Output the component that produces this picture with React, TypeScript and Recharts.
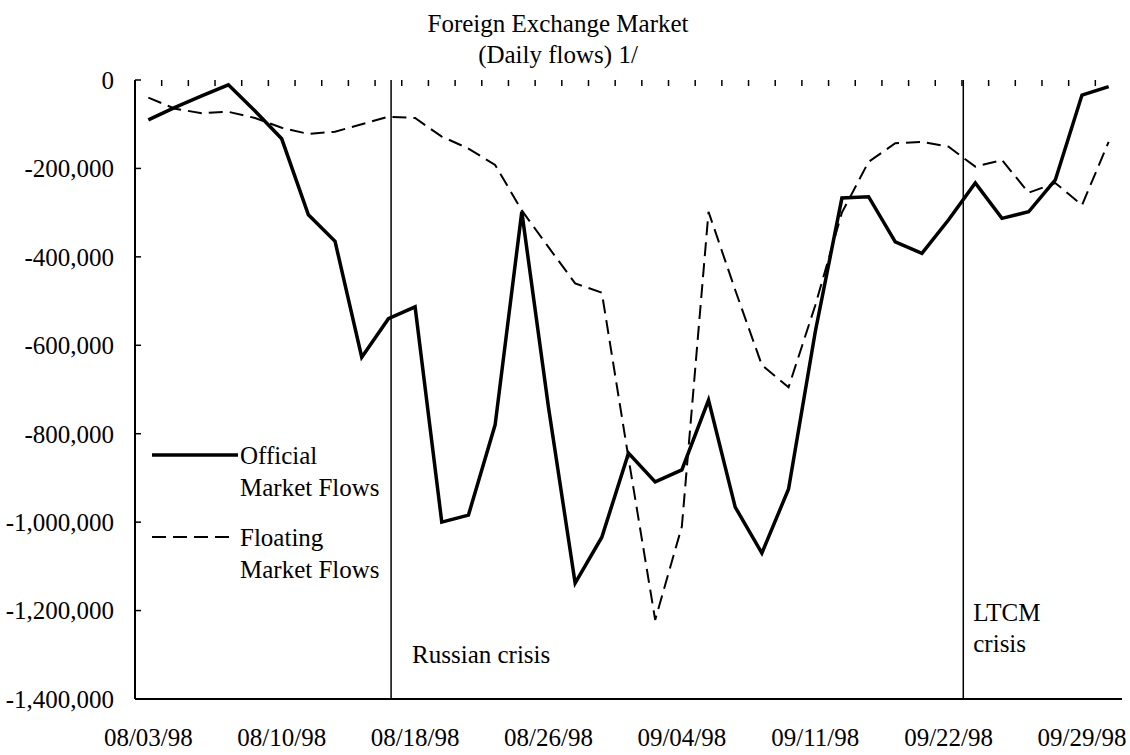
import { Legend, Line, LineChart, ReferenceLine, XAxis, YAxis } from "recharts";

// business days shown on the category axis (only every 5th is labelled)
const dates = [
  "08/03/98", "08/04/98", "08/05/98", "08/06/98", "08/07/98",
  "08/10/98", "08/11/98", "08/12/98", "08/13/98", "08/14/98",
  "08/18/98", "08/19/98", "08/20/98", "08/21/98", "08/24/98",
  "08/26/98", "08/27/98", "08/28/98", "08/31/98", "09/02/98",
  "09/04/98", "09/07/98", "09/08/98", "09/09/98", "09/10/98",
  "09/11/98", "09/14/98", "09/15/98", "09/17/98", "09/21/98",
  "09/22/98", "09/23/98", "09/24/98", "09/25/98", "09/28/98",
  "09/29/98", "09/30/98",
];

const xTickLabels = [
  "08/03/98", "08/10/98", "08/18/98", "08/26/98",
  "09/04/98", "09/11/98", "09/22/98", "09/29/98",
];

const yTicks = [0, -200000, -400000, -600000, -800000, -1000000, -1200000, -1400000];

const officialFlows = [
  -90000, -62000, -36000, -11000, -70000,
  -133000, -305000, -365000, -627000, -540000,
  -513000, -1000000, -984000, -780000, -298000,
  -740000, -1138000, -1034000, -844000, -909000,
  -882000, -724000, -966000, -1070000, -925000,
  -570000, -267000, -264000, -366000, -392000,
  -316000, -233000, -313000, -298000, -226000,
  -34000, -15000,
];

const floatingFlows = [
  -40000, -65000, -75000, -72000, -86000,
  -108000, -122000, -117000, -100000, -83000,
  -86000, -128000, -155000, -192000, -295000,
  -378000, -460000, -481000, -855000, -1221000,
  -1010000, -298000, -475000, -645000, -695000,
  -510000, -300000, -185000, -143000, -140000,
  -151000, -196000, -181000, -255000, -233000,
  -283000, -140000,
];

// where the two events are marked on the date axis
const russianCrisisAt = 9.1;
const ltcmCrisisAt = 30.55;

const FONT = '"Liberation Serif", "Times New Roman", Times, serif';
const FS = 25;
const MARGIN = { top: 80, right: 8, bottom: 0, left: 0 };
const Y_GAP = 21; // label to axis
const TICK_LEN = 6;

const SERIES = [
  { key: "official", lines: ["Official", "Market Flows"], width: 3.5, dash: undefined },
  { key: "floating", lines: ["Floating", "Market Flows"], width: 2, dash: "14 7" },
];

const chartData = dates.map((date, i) => ({
  idx: i,
  date,
  official: officialFlows[i],
  floating: floatingFlows[i],
}));

// labelled dates plus the small marks between every pair of days
const labelTicks = xTickLabels.map((l) => dates.indexOf(l));
const boundaryTicks = dates.slice(1).map((_, i) => i + 0.5);
const xTicks = [...labelTicks, ...boundaryTicks].sort((a, b) => a - b);
const xDomain = [-0.5, dates.length - 0.5];
const yDomain = [yTicks[yTicks.length - 1], yTicks[0]];

const fmtY = (v: number) => v.toLocaleString("en-US");

function DateTick({ x, y, payload }: any) {
  const v = payload.value;
  if (Number.isInteger(v)) {
    return (
      <text
        x={x}
        y={y}
        dy={FS * 0.71}
        textAnchor="middle"
        fontFamily={FONT}
        fontSize={FS}
        fill="#000"
      >
        {dates[v]}
      </text>
    );
  }
  // inward mark hanging from the top edge of the plot
  return (
    <line
      x1={x}
      x2={x}
      y1={MARGIN.top}
      y2={MARGIN.top + TICK_LEN}
      stroke="#000"
      strokeWidth={1.5}
    />
  );
}

function ValueTick({ x, y, payload }: any) {
  return (
    <g>
      <text
        x={x}
        y={y}
        dy={FS * 0.355}
        textAnchor="end"
        fontFamily={FONT}
        fontSize={FS}
        fill="#000"
      >
        {fmtY(payload.value)}
      </text>
      <line
        x1={x + Y_GAP}
        x2={x + Y_GAP + TICK_LEN}
        y1={y}
        y2={y}
        stroke="#000"
        strokeWidth={1.5}
      />
    </g>
  );
}

function CrisisLabel({ viewBox, lines, dx, fromBottom }: any) {
  if (!viewBox) return null;
  const bottom = viewBox.y + viewBox.height;
  return (
    <g>
      {lines.map((t: string, i: number) => (
        <text
          key={t}
          x={viewBox.x + dx}
          y={bottom - fromBottom + i * 31}
          dominantBaseline="central"
          fontFamily={FONT}
          fontSize={FS}
          fill="#000"
        >
          {t}
        </text>
      ))}
    </g>
  );
}

function LegendBox() {
  return (
    <svg width={250} height={160} style={{ display: "block" }}>
      {SERIES.map((s, i) => {
        const cy = 25 + i * 82;
        return (
          <g key={s.key}>
            <line
              x1={2}
              x2={s.dash ? 84 : 88}
              y1={cy}
              y2={cy}
              stroke="#000"
              strokeWidth={s.width}
              strokeDasharray={s.dash}
            />
            {s.lines.map((t, j) => (
              <text
                key={j}
                x={90}
                y={cy + j * 32}
                dominantBaseline="central"
                fontFamily={FONT}
                fontSize={FS}
                fill="#000"
              >
                {t}
              </text>
            ))}
          </g>
        );
      })}
    </svg>
  );
}

export default function App() {
  return (
    <div
      style={{
        position: "absolute",
        left: 0,
        top: 0,
        width: 1130,
        height: 755,
        background: "#fff",
        fontFamily: FONT,
      }}
    >
      <div
        style={{
          position: "absolute",
          left: 358,
          width: 400,
          top: 8,
          textAlign: "center",
          fontSize: FS,
          lineHeight: "31px",
          color: "#000",
        }}
      >
        <div>Foreign Exchange Market</div>
        <div>(Daily flows) 1/</div>
      </div>

      <LineChart width={1130} height={755} data={chartData} margin={MARGIN}>
        <XAxis
          dataKey="idx"
          type="number"
          domain={xDomain}
          ticks={xTicks}
          interval={0}
          tick={<DateTick />}
          tickLine={false}
          tickSize={0}
          tickMargin={29}
          height={56}
          axisLine={{ stroke: "#000", strokeWidth: 2 }}
          allowDataOverflow
        />
        <XAxis
          xAxisId="top"
          orientation="top"
          type="number"
          domain={xDomain}
          tick={false}
          tickLine={false}
          mirror
          height={0}
          axisLine={{ stroke: "#000", strokeWidth: 2 }}
          allowDataOverflow
        />
        <YAxis
          type="number"
          domain={yDomain}
          ticks={yTicks}
          interval={0}
          tick={<ValueTick />}
          tickLine={false}
          tickSize={0}
          tickMargin={Y_GAP}
          width={135}
          axisLine={{ stroke: "#000", strokeWidth: 2 }}
          allowDataOverflow
        />
        <YAxis
          yAxisId="right"
          orientation="right"
          type="number"
          domain={yDomain}
          tick={false}
          tickLine={false}
          mirror
          width={0}
          axisLine={{ stroke: "#000", strokeWidth: 2 }}
          allowDataOverflow
        />

        <ReferenceLine
          x={russianCrisisAt}
          stroke="#000"
          strokeWidth={1.5}
          label={<CrisisLabel lines={["Russian crisis"]} dx={21} fromBottom={45} />}
        />
        <ReferenceLine
          x={ltcmCrisisAt}
          stroke="#000"
          strokeWidth={1.5}
          label={<CrisisLabel lines={["LTCM", "crisis"]} dx={10} fromBottom={87} />}
        />

        <Line
          dataKey="official"
          type="linear"
          stroke="#000"
          strokeWidth={3.5}
          dot={false}
          isAnimationActive={false}
        />
        <Line
          dataKey="floating"
          type="linear"
          stroke="#000"
          strokeWidth={2}
          strokeDasharray="14 7"
          dot={false}
          isAnimationActive={false}
        />

        <Legend
          layout="vertical"
          align="center"
          verticalAlign="middle"
          wrapperStyle={{ left: 150, top: 430, width: 250 }}
          content={() => <LegendBox />}
        />
      </LineChart>
    </div>
  );
}
